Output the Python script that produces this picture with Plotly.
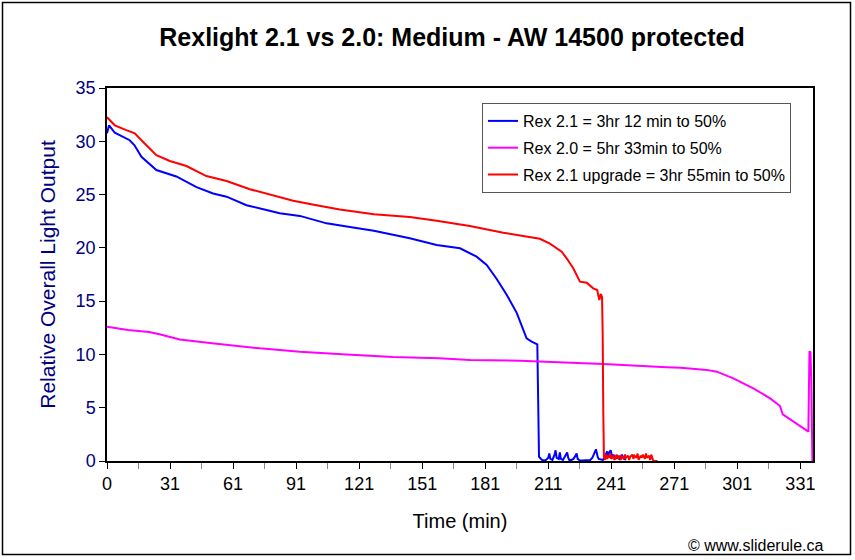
import plotly.graph_objects as go

# ---- data ----
rex21_t = [0, 0.7, 1.0, 3.7, 10.8, 13, 16.4, 23.5, 33, 42.6, 50.5, 56.9, 66.4, 75.9, 82.2, 91.8,
           104.5, 117.1, 127, 144.1, 156.9, 168, 175.9, 180.7, 185.4, 190.2, 195, 199.7, 202.1,
           204.8, 205.2, 205.6,
           206, 207, 208, 209, 210, 210.5, 211, 212, 213, 213.5, 214, 215, 215.5, 216, 217, 218,
           219, 219.5, 220, 221, 222, 223, 223.5, 224, 225, 226, 228, 230, 231, 232, 232.7, 233.5,
           234, 236, 237, 238, 238.5, 239, 239.7, 240.5, 241, 242, 243, 244, 245, 246, 247]
rex21_v = [30.75, 31.3, 31.5, 30.8, 30.1, 29.65, 28.55, 27.3, 26.7, 25.7, 25.1, 24.8, 24.0, 23.55,
           23.24, 23.0, 22.3, 21.9, 21.6, 20.9, 20.27, 19.96, 19.17, 18.4, 17.1, 15.6, 13.9, 11.5,
           11.2, 10.95, 5.7, 0.4,
           0.3, 0.1, 0.05, 0.1, 0.3, 0.7, 0.2, 0.1, 0.6, 1.0, 0.3, 0.2, 0.8, 0.2, 0.1, 0.4,
           0.8, 0.3, 0.1, 0.1, 0.2, 0.5, 0.7, 0.2, 0.05, 0.05, 0.05, 0.1, 0.3, 0.7, 1.1, 0.4,
           0.2, 0.1, 0.4, 0.9, 0.5, 0.8, 1.0, 0.3, 0.6, 0.2, 0.5, 0.1, 0.6, 0.2, 0.1]

rex20_t = [0, 10, 20, 25, 34.6, 50, 72.7, 91.8, 114, 125, 136, 158, 172.7, 196.5, 220.3, 236.3,
           266.4, 273, 285.4, 290.2, 298.1, 307.6, 315.6, 320.3, 321.6, 333.8, 334.3, 334.8,
           335.2, 335.7]
rex20_v = [12.6, 12.3, 12.1, 11.9, 11.41, 11.04, 10.57, 10.26, 10.0, 9.88, 9.76, 9.63, 9.48, 9.41,
           9.23, 9.1, 8.8, 8.75, 8.55, 8.38, 7.76, 6.82, 5.88, 5.16, 4.38, 2.75, 10.3, 10.2,
           7.5, 0.0]

up_t = [0, 3.7, 9.2, 13.2, 17.1, 23.5, 29.9, 37.8, 47.3, 56.9, 68, 77.5, 88.6, 99.7, 110.8, 127,
        144.1, 156.9, 172.7, 188.6, 201.3, 206, 210.8, 214, 216.4, 219, 221.9, 225.1, 228.3, 231.4,
        233.3, 234.3, 235, 235.6, 235.9, 236.2,
        236.5, 237, 237.5, 238, 238.5, 239, 239.5, 240, 241, 241.5, 242, 242.5, 243, 244, 244.5,
        245, 246, 246.5, 247, 248, 248.5, 249, 250, 250.5, 251, 252, 252.5, 253, 254, 254.5, 255,
        256, 256.5, 257, 258, 258.5, 259, 260, 262]
up_v = [32.25, 31.5, 31.05, 30.75, 29.96, 28.7, 28.15, 27.68, 26.74, 26.27, 25.5, 25.0, 24.43, 24.0,
        23.6, 23.15, 22.9, 22.55, 22.05, 21.42, 20.98, 20.85, 20.4, 20.0, 19.64, 18.95, 18.08, 16.83,
        16.73, 16.2, 16.04, 15.1, 15.67, 15.4, 12.0, 4.5,
        0.4, 0.1, 0.6, 0.2, 0.5, 0.3, 0.7, 0.2, 0.5, 0.1, 0.4, 0.6, 0.2, 0.5, 0.1,
        0.4, 0.2, 0.6, 0.3, 0.5, 0.1, 0.4, 0.6, 0.2, 0.5, 0.3, 0.7, 0.1, 0.5, 0.3, 0.6,
        0.2, 0.7, 0.3, 0.5, 0.1, 0.6, 0.0, 0.0]

names = ["Rex 2.1 = 3hr 12 min to 50%", "Rex 2.0 = 5hr 33min to 50%",
         "Rex 2.1 upgrade = 3hr 55min to 50%"]
colors = ["#0000FF", "#FF00FF", "#FF0000"]

x_tickvals = [0, 30, 60, 90, 120, 150, 180, 210, 240, 270, 300, 330]
x_ticktext = ["0", "31", "61", "91", "121", "151", "181", "211", "241", "271", "301", "331"]
y_tickvals = [0, 5, 10, 15, 20, 25, 30, 35]

FONT = "Arial, 'Liberation Sans', sans-serif"

fig = go.Figure()
for i, (t, v) in enumerate([(rex21_t, rex21_v), (rex20_t, rex20_v), (up_t, up_v)]):
    fig.add_trace(go.Scatter(x=t, y=v, mode="lines", name=names[i],
                             line=dict(color=colors[i], width=2),
                             legendgroup=str(i)))

fig.update_layout(
    width=855, height=560,
    margin=dict(l=107, r=42, t=88, b=99),
    paper_bgcolor="white", plot_bgcolor="white",
    font=dict(family=FONT, color="black"),
    title=dict(text="<b>Rexlight 2.1 vs 2.0: Medium - AW 14500 protected</b>",
               x=(452 - 107) / 706, xref="paper", xanchor="center",
               y=1 - 37 / 560, yref="container", yanchor="middle",
               font=dict(size=25, family=FONT, color="black")),
    legend=dict(x=(482 - 107) / 706, y=(461 - 103) / 373, xanchor="left", yanchor="top",
                bordercolor="#555555", borderwidth=1, bgcolor="white",
                font=dict(size=16, family=FONT, color="black"),
                traceorder="grouped", tracegroupgap=3),
    showlegend=True,
)

fig.update_xaxes(range=[0, 336], tickmode="array", tickvals=x_tickvals, ticktext=x_ticktext,
                 ticks="outside", ticklen=6, tickcolor="black", tickwidth=1,
                 minor=dict(tickmode="array", tickvals=[15, 45, 75, 105, 135, 165, 195, 225, 255, 285, 315],
                            ticks="outside", ticklen=6, tickcolor="#888888", tickwidth=1),
                 showline=True, linecolor="black", linewidth=1.5, mirror=True,
                 showgrid=False, zeroline=False,
                 tickfont=dict(size=18, family=FONT, color="black"),
                 title=dict(text="Time (min)", font=dict(size=20, family=FONT, color="black"),
                            standoff=21))
fig.update_yaxes(range=[0, 35], tickmode="array", tickvals=y_tickvals,
                 ticks="outside", ticklen=6, tickcolor="black", tickwidth=1,
                 showline=True, linecolor="black", linewidth=1.5, mirror=True,
                 showgrid=False, zeroline=False,
                 tickfont=dict(size=18, family=FONT, color="#000080"),
                 title=dict(text="Relative Overall Light Output",
                            font=dict(size=21, family=FONT, color="#000080"), standoff=14))

# outer chart border
fig.add_shape(type="rect", xref="paper", yref="paper",
              x0=(2.5 - 107) / 706, x1=(850.5 - 107) / 706,
              y0=(461 - 554.5) / 373, y1=(461 - 2.5) / 373,
              line=dict(color="black", width=1.5), fillcolor="rgba(0,0,0,0)", layer="below")

fig.add_annotation(text="© www.sliderule.ca", xref="paper", yref="paper",
                   x=(755 - 107) / 706, y=(461 - 545) / 373, xanchor="center", yanchor="middle",
                   showarrow=False, font=dict(size=16, family=FONT, color="black"))

fig.write_html("out.html", config={"displayModeBar": False},
               post_script="document.body.style.margin='0px';document.body.style.overflow='hidden';")
